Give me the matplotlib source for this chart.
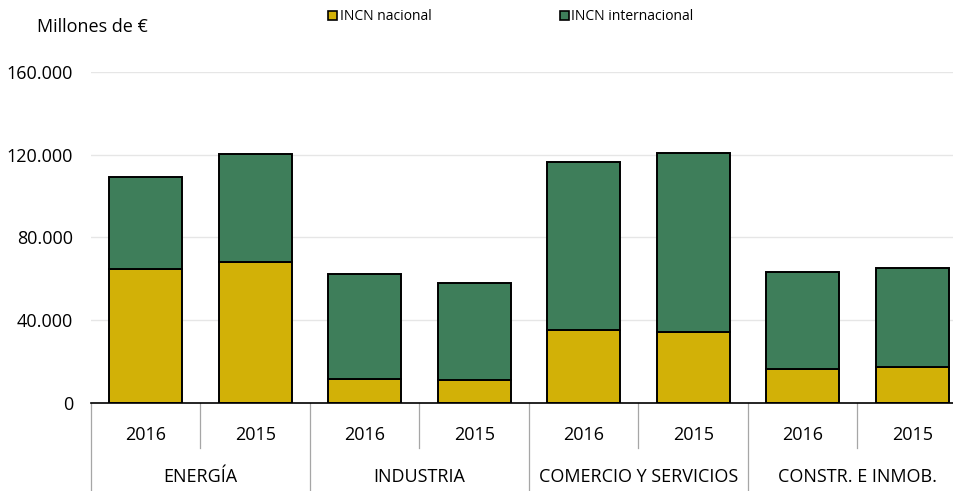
import matplotlib.pyplot as plt
from matplotlib.patches import Patch
from matplotlib.ticker import FuncFormatter
import matplotlib.transforms as mtransforms

# === DATA ===
sectors = ["ENERGÍA", "INDUSTRIA", "COMERCIO Y SERVICIOS", "CONSTR. E INMOB."]
years = ["2016", "2015"]
incn_nacional = [64800, 68100, 11400, 11100, 35300, 34200, 16600, 17400]
incn_internacional = [44400, 52200, 50800, 46900, 81300, 86500, 46900, 47800]
yticks = [0, 40000, 80000, 120000, 160000]

YELLOW = "#D2B107"
GREEN = "#3E7E5A"
plt.rcParams["font.family"] = ["Open Sans", "DejaVu Sans"]

fig = plt.figure(figsize=(9.54, 4.91), dpi=100)
ax = fig.add_axes([91 / 954, 88 / 491, 876 / 954, 331 / 491])

n = len(sectors) * len(years)
xs = list(range(n))
ax.bar(xs, incn_nacional, width=0.67, color=YELLOW, edgecolor="black", linewidth=1.4, zorder=3)
ax.bar(xs, incn_internacional, width=0.67, bottom=incn_nacional, color=GREEN,
       edgecolor="black", linewidth=1.4, zorder=3)

ax.set_xlim(-0.5, n - 0.5)
ax.set_ylim(0, 160000)
ax.set_yticks(yticks)
ax.yaxis.set_major_formatter(FuncFormatter(lambda v, p: f"{int(v):,}".replace(",", ".")))
ax.tick_params(axis="y", length=0, labelsize=13, pad=13)
ax.grid(axis="y", color="#e6e6e6", linewidth=1, zorder=0)
ax.set_xticks([])
for s in ["left", "right", "top"]:
    ax.spines[s].set_visible(False)
ax.spines["bottom"].set_linewidth(1.2)
ax.spines["bottom"].set_zorder(4)

# category labels below the axis
trans = mtransforms.blended_transform_factory(ax.transData, ax.transAxes)
for i in range(n):
    ax.text(xs[i], -0.097, years[i % 2], transform=trans, ha="center", va="center", fontsize=13)
for j, name in enumerate(sectors):
    ax.text(2 * j + 0.5, -0.224, name, transform=trans, ha="center", va="center", fontsize=13)
for k in range(n + 1):
    x = k - 0.5
    y_end = -0.27 if k % 2 == 0 else -0.136
    ax.plot([x, x], [0, y_end], transform=trans, color="#a6a6a6", linewidth=0.9, clip_on=False)

fig.text(37 / 954, 1 - 27 / 491, "Millones de €", ha="left", va="center", fontsize=13)

handles = [Patch(facecolor=YELLOW, edgecolor="black", linewidth=1.2, label="INCN nacional"),
           Patch(facecolor=GREEN, edgecolor="black", linewidth=1.2, label="INCN internacional")]
fig.legend(handles=handles, loc="center", bbox_to_anchor=(511 / 954, 1 - 17 / 491), ncol=2,
           frameon=False, fontsize=10, handlelength=0.65, handleheight=0.65,
           handletextpad=0.2, columnspacing=9.2, borderpad=0)

fig.savefig("out.png", dpi=100)
